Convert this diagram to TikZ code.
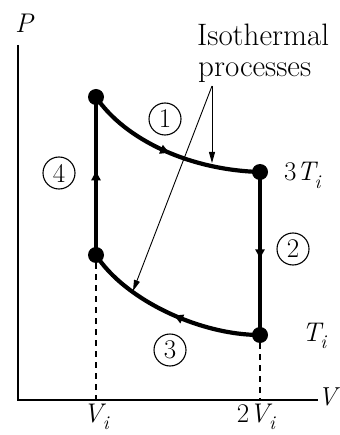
\documentclass[tikz,border=0pt]{standalone}
\usepackage{fontspec}
\usetikzlibrary{arrows.meta,decorations.markings}
\newcommand{\mysub}[1]{\kern-0.12em\raisebox{-0.26em}{\scalebox{0.72}{\itshape #1}}}
\begin{document}
\begin{tikzpicture}[x=1pt,y=-1pt,
  axis/.style={line width=1.2pt},
  pathline/.style={line width=4.2pt},
  dot/.style={circle,fill,inner sep=0pt,minimum size=16pt},
  num/.style={circle,draw,line width=1.1pt,minimum size=32pt,inner sep=0pt,font=\fontsize{27}{27}\selectfont},
  lab/.style={font=\fontsize{27}{27}\selectfont,inner sep=0pt},
  title/.style={font=\fontsize{31}{30}\selectfont,inner sep=0pt},
  guide/.style={line width=0.9pt,-{Triangle[length=11pt,width=6pt]}},
  midarrow/.style={postaction={decorate},decoration={markings,mark=at position #1 with {\arrow{Triangle[length=9pt,width=9pt]}}}},
  dashline/.style={line width=1.1pt,dash pattern=on 6pt off 5pt}]
\useasboundingbox (0,0) rectangle (339,435);
% axes
\coordinate (O) at (18,400);
\coordinate (Ptop) at (18,45);
\coordinate (Vend) at (318,400);
\draw[axis] (Ptop) -- (O) -- (Vend);
\node[lab,anchor=base] (P) at (24,33) {\itshape P};
\node[lab,anchor=base east,font=\fontsize{26}{26}\selectfont] (V) at (337,405) {\itshape V};
% state points
\node[dot] (A) at (96,97) {};
\node[dot] (B) at (260,172) {};
\node[dot] (C) at (260,335) {};
\node[dot] (D) at (96,255) {};
% dashed drop lines
\draw[dashline] (D) -- (D |- O);
\draw[dashline] (C) -- (C |- O);
% cycle
\draw[pathline,midarrow=0.5] (A.center) .. controls (125,140) and (190,170) .. (B.center);
\draw[pathline,midarrow=0.53] (B.center) -- (C.center);
\draw[pathline,midarrow=0.47] (C.center) .. controls (200,335) and (125,300) .. (D.center);
\draw[pathline,midarrow=0.53] (D.center) -- (A.center);
% labels
\node[num] (n1) at (165,119) {1};
\node[num] (n2) at (293,249) {2};
\node[num] (n3) at (170,350) {3};
\node[num] (n4) at (59,173) {4};
\node[lab,anchor=base west] (t3) at (284,181) {3\textit{T}\mysub{i}};
\node[lab,anchor=base west] (t1) at (302,341) {\textit{T}\mysub{i}};
\node[lab,anchor=base] (v1) at (96,422) {\textit{V}\mysub{i}};
\node[lab,anchor=base] (v2) at (256,422) {2\textit{V}\mysub{i}};
% isothermal note
\node[title,anchor=base west] (iso1) at (197,46) {Isothermal};
\node[title,anchor=base west] (iso2) at (198,77) {processes};
\coordinate (G) at (212,86);
\coordinate (g1) at (212,163);
\coordinate (g3) at (133,291);
\draw[guide] (G) -- (g1);
\draw[guide] (G) -- (g3);
\end{tikzpicture}
\end{document}
